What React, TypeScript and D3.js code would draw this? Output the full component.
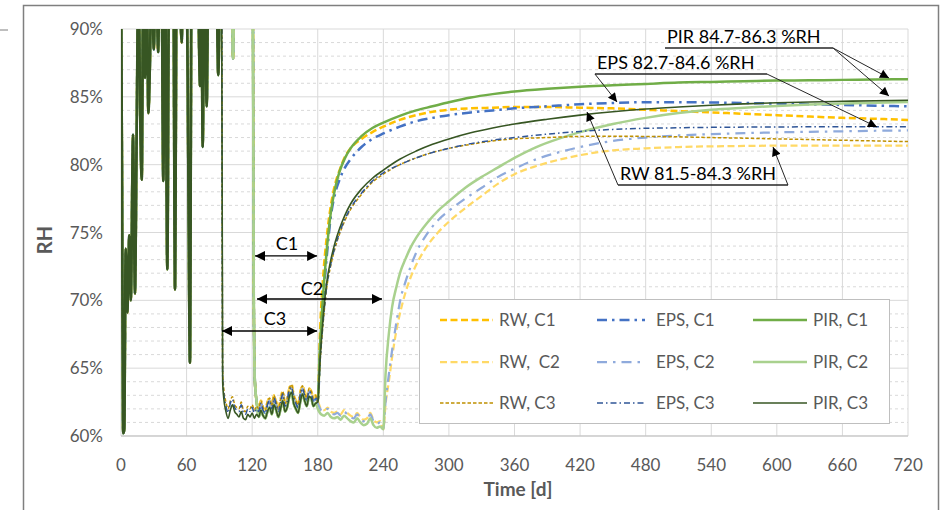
import React from "react";
import * as d3 from "d3";

// ---------- axis ticks ----------
const xTicks = [0, 60, 120, 180, 240, 300, 360, 420, 480, 540, 600, 660, 720];
const yTicks = [60, 65, 70, 75, 80, 85, 90];
const yMinor = [61, 62, 63, 64, 66, 67, 68, 69, 71, 72, 73, 74, 76, 77, 78, 79, 81, 82, 83, 84, 86, 87, 88, 89];

// ---------- early wetting phase (common to all series) ----------
const spikeDays = [0, 1, 2, 3, 4.3, 5.8, 7.6, 9, 11, 12.8, 14.3, 16, 17.5, 19, 20.4, 22, 23.5, 25, 26.5, 28, 30, 32, 34, 35.5, 37, 38.7, 40.3, 42.4, 44, 46, 47.8, 49.4, 51, 53, 55.5, 57, 60, 61.5, 63.1, 64.6, 67, 70, 72.3, 73.5, 74.7, 76.5, 78.4, 80, 84, 87, 89, 91, 92];
const spikeRH = [95, 78, 60.2, 60.5, 73.8, 69.1, 74.8, 70, 82.2, 70.5, 82, 95, 84, 78.9, 95, 86.4, 95, 83.8, 87.6, 95, 88.5, 95, 88.3, 95, 95, 78.8, 95, 72.3, 95, 95, 95, 70.8, 95, 95, 89, 95, 95, 80.5, 65.4, 95, 95, 95, 85.8, 95, 81.3, 95, 84.3, 95, 95, 95, 86.6, 95, 95];

// C1 / C2 stay wet until ~121 d
const highDays = [92.5, 101, 102.5, 104, 120.5, 121.5, 122.5, 124];
const highRH = [95, 95, 87.8, 95, 95, 70, 64, 62.6];

// ---------- dry plateau (92 - 180 d) ----------
const plateauDays = [93, 94, 96, 98, 100, 102, 104, 106, 108, 110, 112, 114, 116, 118, 120, 122, 124, 126, 128, 130, 132, 134, 136, 138, 140, 142, 144, 146, 148, 150, 152, 154, 156, 158, 160, 162, 164, 166, 168, 170, 172, 174, 176, 178];
const plateauRW = [64.8, 63.5, 62.5, 62.0, 62.6, 62.9, 62.3, 62.1, 62.0, 62.5, 61.9, 61.8, 62.2, 62.0, 62.3, 61.9, 62.2, 62.0, 62.6, 62.1, 61.9, 62.5, 62.8, 62.2, 63.0, 62.5, 62.0, 62.7, 63.3, 62.4, 62.7, 63.5, 63.8, 63.0, 62.6, 62.3, 63.2, 63.7, 63.2, 62.8, 63.5, 63.3, 62.8, 63.0];
const plateauEPS = [64.3, 63.2, 62.2, 61.7, 62.4, 62.7, 62.1, 61.9, 61.8, 62.3, 61.7, 61.6, 62.0, 61.8, 62.1, 61.7, 62.0, 61.8, 62.4, 61.9, 61.7, 62.3, 62.6, 62.0, 62.8, 62.3, 61.8, 62.5, 63.1, 62.2, 62.5, 63.4, 63.6, 62.8, 62.4, 62.1, 63.0, 63.5, 63.0, 62.6, 63.3, 63.1, 62.6, 62.8];
const plateauPIR = [64.0, 62.8, 61.8, 61.3, 61.9, 62.3, 61.8, 61.6, 61.4, 61.8, 61.3, 61.2, 61.6, 61.4, 61.7, 61.3, 61.6, 61.4, 61.9, 61.5, 61.3, 61.8, 62.1, 61.6, 62.3, 61.9, 61.4, 62.0, 62.6, 61.8, 62.1, 62.9, 63.2, 62.4, 62.0, 61.7, 62.5, 63.1, 62.6, 62.2, 62.9, 62.8, 62.2, 62.4];

// ---------- C2 extended plateau (180 - 240 d) ----------
const plateau2Days = [180, 183, 186, 189, 192, 195, 198, 201, 204, 207, 210, 213, 216, 219, 222, 225, 228, 231, 234, 237];
const plateau2RW = [62.6, 62.0, 61.9, 62.1, 61.8, 61.7, 61.8, 61.6, 61.9, 61.7, 61.5, 61.4, 61.7, 61.4, 61.2, 61.3, 61.7, 61.2, 61.0, 61.1];
const plateau2EPS = [62.4, 61.9, 61.8, 62.0, 61.7, 61.6, 61.7, 61.5, 61.8, 61.6, 61.4, 61.3, 61.6, 61.3, 61.1, 61.2, 61.6, 61.1, 60.9, 61.0];
const plateau2PIR = [62.0, 61.6, 61.5, 61.7, 61.4, 61.3, 61.4, 61.2, 61.5, 61.3, 61.1, 61.0, 61.3, 61.0, 60.8, 60.9, 61.3, 60.8, 60.6, 60.7];

// ---------- recovery after 180 d (C1, C3) ----------
const recovDays180 = [180, 182, 185, 188, 192, 196, 200, 205, 210, 220, 230, 240, 255, 270, 285, 300, 320, 340, 360, 390, 420, 450, 480, 510, 540, 570, 600, 630, 660, 690, 720];
const rwC1 = [62.5, 67.5, 71.8, 74.5, 77.0, 78.6, 79.6, 80.6, 81.2, 81.9, 82.4, 82.8, 83.3, 83.65, 83.9, 84.05, 84.15, 84.2, 84.25, 84.25, 84.2, 84.15, 84.05, 83.95, 83.85, 83.75, 83.65, 83.55, 83.45, 83.38, 83.3];
const epsC1 = [62.5, 66, 70, 73, 76.2, 77.9, 78.9, 79.8, 80.4, 81.3, 81.9, 82.3, 82.8, 83.2, 83.45, 83.65, 83.85, 84.0, 84.15, 84.3, 84.45, 84.55, 84.6, 84.6, 84.58, 84.55, 84.5, 84.45, 84.4, 84.35, 84.3];
const pirC1 = [62.5, 66.5, 70.5, 73.5, 76.5, 78.3, 79.5, 80.5, 81.2, 82.1, 82.7, 83.1, 83.6, 84.0, 84.3, 84.6, 84.95, 85.2, 85.4, 85.6, 85.75, 85.85, 85.95, 86.05, 86.1, 86.15, 86.2, 86.22, 86.25, 86.28, 86.3];
const rwC3 = [62.5, 65.3, 68.4, 70.8, 72.6, 73.9, 74.9, 75.9, 76.7, 77.8, 78.7, 79.3, 80.0, 80.5, 80.9, 81.2, 81.5, 81.75, 81.9, 82.0, 82.08, 82.1, 82.08, 82.05, 82.0, 81.95, 81.9, 81.85, 81.8, 81.75, 81.7];
const epsC3 = [62.5, 65.3, 68.5, 70.9, 72.7, 74.0, 75.0, 76.0, 76.8, 77.9, 78.8, 79.4, 80.0, 80.5, 80.9, 81.2, 81.55, 81.8, 82.0, 82.25, 82.45, 82.6, 82.68, 82.72, 82.75, 82.77, 82.78, 82.79, 82.8, 82.8, 82.8];
const pirC3 = [62.5, 65.5, 68.8, 71.2, 73.0, 74.3, 75.3, 76.3, 77.1, 78.2, 79.0, 79.6, 80.4, 81.0, 81.5, 81.9, 82.35, 82.7, 83.0, 83.35, 83.65, 83.9, 84.1, 84.25, 84.38, 84.48, 84.56, 84.62, 84.67, 84.71, 84.75];

// ---------- recovery after 240 d (C2) ----------
const recovDays240 = [240, 242, 245, 248, 252, 256, 260, 265, 270, 280, 290, 300, 315, 330, 345, 360, 380, 400, 420, 450, 480, 510, 540, 570, 600, 630, 660, 690, 720];
const rwC2 = [60.5, 62.3, 64.0, 65.8, 67.8, 69.3, 70.5, 71.7, 72.6, 74.0, 75.0, 75.8, 76.8, 77.7, 78.6, 79.3, 79.9, 80.35, 80.7, 81.05, 81.2, 81.3, 81.35, 81.38, 81.4, 81.4, 81.4, 81.4, 81.4];
const epsC2 = [60.5, 62.5, 64.5, 66.3, 68.4, 70.2, 71.3, 72.5, 73.5, 74.9, 75.9, 76.6, 77.5, 78.3, 79.1, 79.7, 80.4, 80.9, 81.3, 81.75, 82.0, 82.15, 82.25, 82.32, 82.38, 82.42, 82.46, 82.5, 82.52];
const pirC2 = [60.5, 64.5, 67.5, 69.5, 71.0, 72.2, 73.0, 73.9, 74.6, 75.7, 76.6, 77.3, 78.3, 79.1, 79.8, 80.5, 81.3, 81.9, 82.4, 83.0, 83.45, 83.8, 84.05, 84.2, 84.33, 84.43, 84.5, 84.57, 84.62];

const seriesNames = ["RW, C1", "EPS, C1", "PIR, C1", "RW,  C2", "EPS, C2", "PIR, C2", "RW, C3", "EPS, C3", "PIR, C3"];

// construction periods (double arrows)
const periodLabels = ["C1", "C2", "C3"];
const periodStart = [122.6, 124.4, 92.4];
const periodEnd = [179.4, 238.8, 179.4];
const periodRH = [73.27, 70.1, 67.74];
const periodLabelDay = [151.9, 174.7, 140.9];

// range annotations
const annoTexts = ["PIR 84.7-86.3 %RH", "EPS 82.7-84.6 %RH", "RW 81.5-84.3 %RH"];
const annoLineRH = [88.6, 86.68, 78.5];
const annoLineFrom = [497.7, 433.6, 454.7];
const annoLineTo = [651.4, 591.0, 610.2];
const annoArrows = [
  [[651.4, 88.6, 702.6, 86.39], [651.4, 88.6, 702.6, 85.06]],
  [[433.6, 86.68, 453.8, 84.62], [591.0, 86.68, 691.6, 82.78]],
  [[454.7, 78.5, 426.3, 83.88], [610.2, 78.5, 596.5, 81.3]],
];

// ---------- styles (kept apart from data) ----------
const styles: Record<string, { color: string; width: number; dash: string | null }> = {
  "RW, C1": { color: "#FFC000", width: 2.5, dash: "7,3.5" },
  "EPS, C1": { color: "#4472C4", width: 2.5, dash: "10,5,2.5,5" },
  "PIR, C1": { color: "#70AD47", width: 2.5, dash: null },
  "RW,  C2": { color: "#FFD966", width: 2.25, dash: "7,3.5" },
  "EPS, C2": { color: "#8FAADC", width: 2.25, dash: "10,6,2.5,6" },
  "PIR, C2": { color: "#A9D18E", width: 2.5, dash: null },
  "RW, C3": { color: "#BF9000", width: 1.5, dash: "3.5,2" },
  "EPS, C3": { color: "#2F5597", width: 1.5, dash: "6,3,1.5,3" },
  "PIR, C3": { color: "#375623", width: 1.6, dash: null },
};

type P = [number, number];
const pts = (days: number[], vals: number[], minDay = -Infinity): P[] =>
  days.map((d, i) => [d, vals[i]] as P).filter((p) => p[0] >= minDay);

function buildSeries(): Record<string, P[]> {
  const spikes = pts(spikeDays, spikeRH);
  const high = pts(highDays, highRH);
  const mats = [
    { p: plateauRW, p2: plateau2RW, c1: rwC1, c2: rwC2, c3: rwC3 },
    { p: plateauEPS, p2: plateau2EPS, c1: epsC1, c2: epsC2, c3: epsC3 },
    { p: plateauPIR, p2: plateau2PIR, c1: pirC1, c2: pirC2, c3: pirC3 },
  ];
  const out: Record<string, P[]> = {};
  mats.forEach((m, i) => {
    out[seriesNames[i]] = [...spikes, ...high, ...pts(plateauDays, m.p, 126), ...pts(recovDays180, m.c1)];
    out[seriesNames[3 + i]] = [...spikes, ...high, ...pts(plateauDays, m.p, 126), ...pts(plateau2Days, m.p2), ...pts(recovDays240, m.c2)];
    out[seriesNames[6 + i]] = [...spikes, ...pts(plateauDays, m.p), ...pts(recovDays180, m.c3)];
  });
  return out;
}

const FONT = "Lato, 'Open Sans', sans-serif";
const GRAY = "#595959";

export default function App() {
  const W = 945, H = 510;
  const x = d3.scaleLinear().domain([0, 720]).range([121, 908]);
  const y = d3.scaleLinear().domain([60, 90]).range([436, 29]);
  const line = d3.line<P>().x((d) => x(d[0])).y((d) => y(d[1])).curve(d3.curveMonotoneX);
  const series = buildSeries();
  const spikes = pts(spikeDays, spikeRH);

  const legendCols = [440, 597, 753];
  const legendLineLen = [53, 48, 54];
  const legendTextX = [499, 656, 813];
  const legendRows = [320, 362, 403];

  return (
    <svg width={W} height={H} style={{ position: "absolute", left: 0, top: 0, background: "#fff" }} fontFamily={FONT}>
      <defs>
        <clipPath id="plot">
          <rect x={x(0)} y={y(90)} width={x(720) - x(0)} height={y(60) - y(90)} />
        </clipPath>
        <marker id="ah" viewBox="0 0 10 10" refX="10" refY="5" markerWidth="13" markerHeight="9" markerUnits="userSpaceOnUse" orient="auto-start-reverse">
          <path d="M0,0 L10,5 L0,10 z" fill="#000" />
        </marker>
        <marker id="ah2" viewBox="0 0 10 10" refX="10" refY="5" markerWidth="12" markerHeight="10" markerUnits="userSpaceOnUse" orient="auto-start-reverse">
          <path d="M0,0 L10,5 L0,10 z" fill="#000" />
        </marker>
      </defs>
      <rect width={W} height={H} fill="#fff" />
      {/* outer frame */}
      <line x1={0} x2={8} y1={30} y2={30} stroke="#7f7f7f" strokeWidth={1} />
      <path d={`M23.5,${H + 5} L23.5,5.5 L938.5,5.5 L938.5,${H + 5}`} fill="none" stroke="#7f7f7f" strokeWidth={1.5} />

      {/* grid */}
      {yMinor.map((v) => (
        <line key={"m" + v} x1={x(0)} x2={x(720)} y1={y(v)} y2={y(v)} stroke="#d9d9d9" strokeWidth={1} strokeDasharray="3,3" />
      ))}
      {yTicks.map((v) => (
        <line key={"g" + v} x1={x(0)} x2={x(720)} y1={y(v)} y2={y(v)} stroke="#d9d9d9" strokeWidth={1} />
      ))}
      {xTicks.map((v) => (
        <line key={"v" + v} x1={x(v)} x2={x(v)} y1={y(90)} y2={y(60)} stroke="#d9d9d9" strokeWidth={1} />
      ))}
      <line x1={x(0)} x2={x(720)} y1={y(60)} y2={y(60)} stroke="#bfbfbf" strokeWidth={1} />

      {/* tick labels */}
      {yTicks.map((v) => (
        <text key={"yl" + v} x={103} y={y(v)} dy="0.36em" textAnchor="end" fontSize={17} fill={GRAY}>{v}%</text>
      ))}
      {xTicks.map((v) => (
        <text key={"xl" + v} x={x(v)} y={465} dy="0.36em" textAnchor="middle" fontSize={17} fill={GRAY}>{v}</text>
      ))}
      <text x={518} y={496} textAnchor="middle" fontSize={19} fontWeight="bold" fill={GRAY}>Time [d]</text>
      <text transform="translate(52,240) rotate(-90)" textAnchor="middle" fontSize={20} fontWeight="bold" fill={GRAY}>RH</text>

      {/* series */}
      <g clipPath="url(#plot)">
        {seriesNames.map((n) => (
          <path key={n} d={line(series[n]) || ""} fill="none" stroke={styles[n].color} strokeWidth={styles[n].width}
            strokeDasharray={styles[n].dash || undefined} strokeLinejoin="round" />
        ))}
        <path d={line(spikes) || ""} fill="none" stroke="#375623" strokeWidth={2.6} strokeLinejoin="round" />
      </g>

      {/* construction period arrows */}
      {periodLabels.map((l, i) => (
        <g key={l}>
          <line x1={x(periodStart[i])} x2={x(periodEnd[i])} y1={y(periodRH[i])} y2={y(periodRH[i])} stroke="#000" strokeWidth={1.3}
            markerStart="url(#ah2)" markerEnd="url(#ah2)" />
          <text x={x(periodLabelDay[i])} y={y(periodRH[i]) - (i === 1 ? 4 : 6)} textAnchor="middle" fontSize={18} fill="#000">{l}</text>
        </g>
      ))}

      {/* legend */}
      <rect x={419.5} y={299.5} width={470} height={124} fill="#fff" stroke="#bfbfbf" strokeWidth={1} />
      {seriesNames.map((n, i) => {
        const col = i % 3, row = Math.floor(i / 3);
        const ly = legendRows[row];
        return (
          <g key={"lg" + n}>
            <line x1={legendCols[col]} x2={legendCols[col] + legendLineLen[col]} y1={ly} y2={ly} stroke={styles[n].color}
              strokeWidth={styles[n].width} strokeDasharray={styles[n].dash || undefined} />
            <text x={legendTextX[col]} y={ly} dy="0.36em" fontSize={17} fill={GRAY} style={{ whiteSpace: "pre" }}>{n}</text>
          </g>
        );
      })}

      {/* range annotations */}
      {annoTexts.map((t, i) => (
        <g key={t}>
          <text x={x(annoLineFrom[i]) + 2} y={y(annoLineRH[i]) - 5} fontSize={18} fill="#000">{t}</text>
          <line x1={x(annoLineFrom[i])} x2={x(annoLineTo[i])} y1={y(annoLineRH[i])} y2={y(annoLineRH[i])} stroke="#262626" strokeWidth={1.5} />
          {annoArrows[i].map((a, j) => (
            <line key={j} x1={x(a[0])} y1={y(a[1])} x2={x(a[2])} y2={y(a[3])} stroke="#262626" strokeWidth={1} markerEnd="url(#ah)" />
          ))}
        </g>
      ))}
    </svg>
  );
}
